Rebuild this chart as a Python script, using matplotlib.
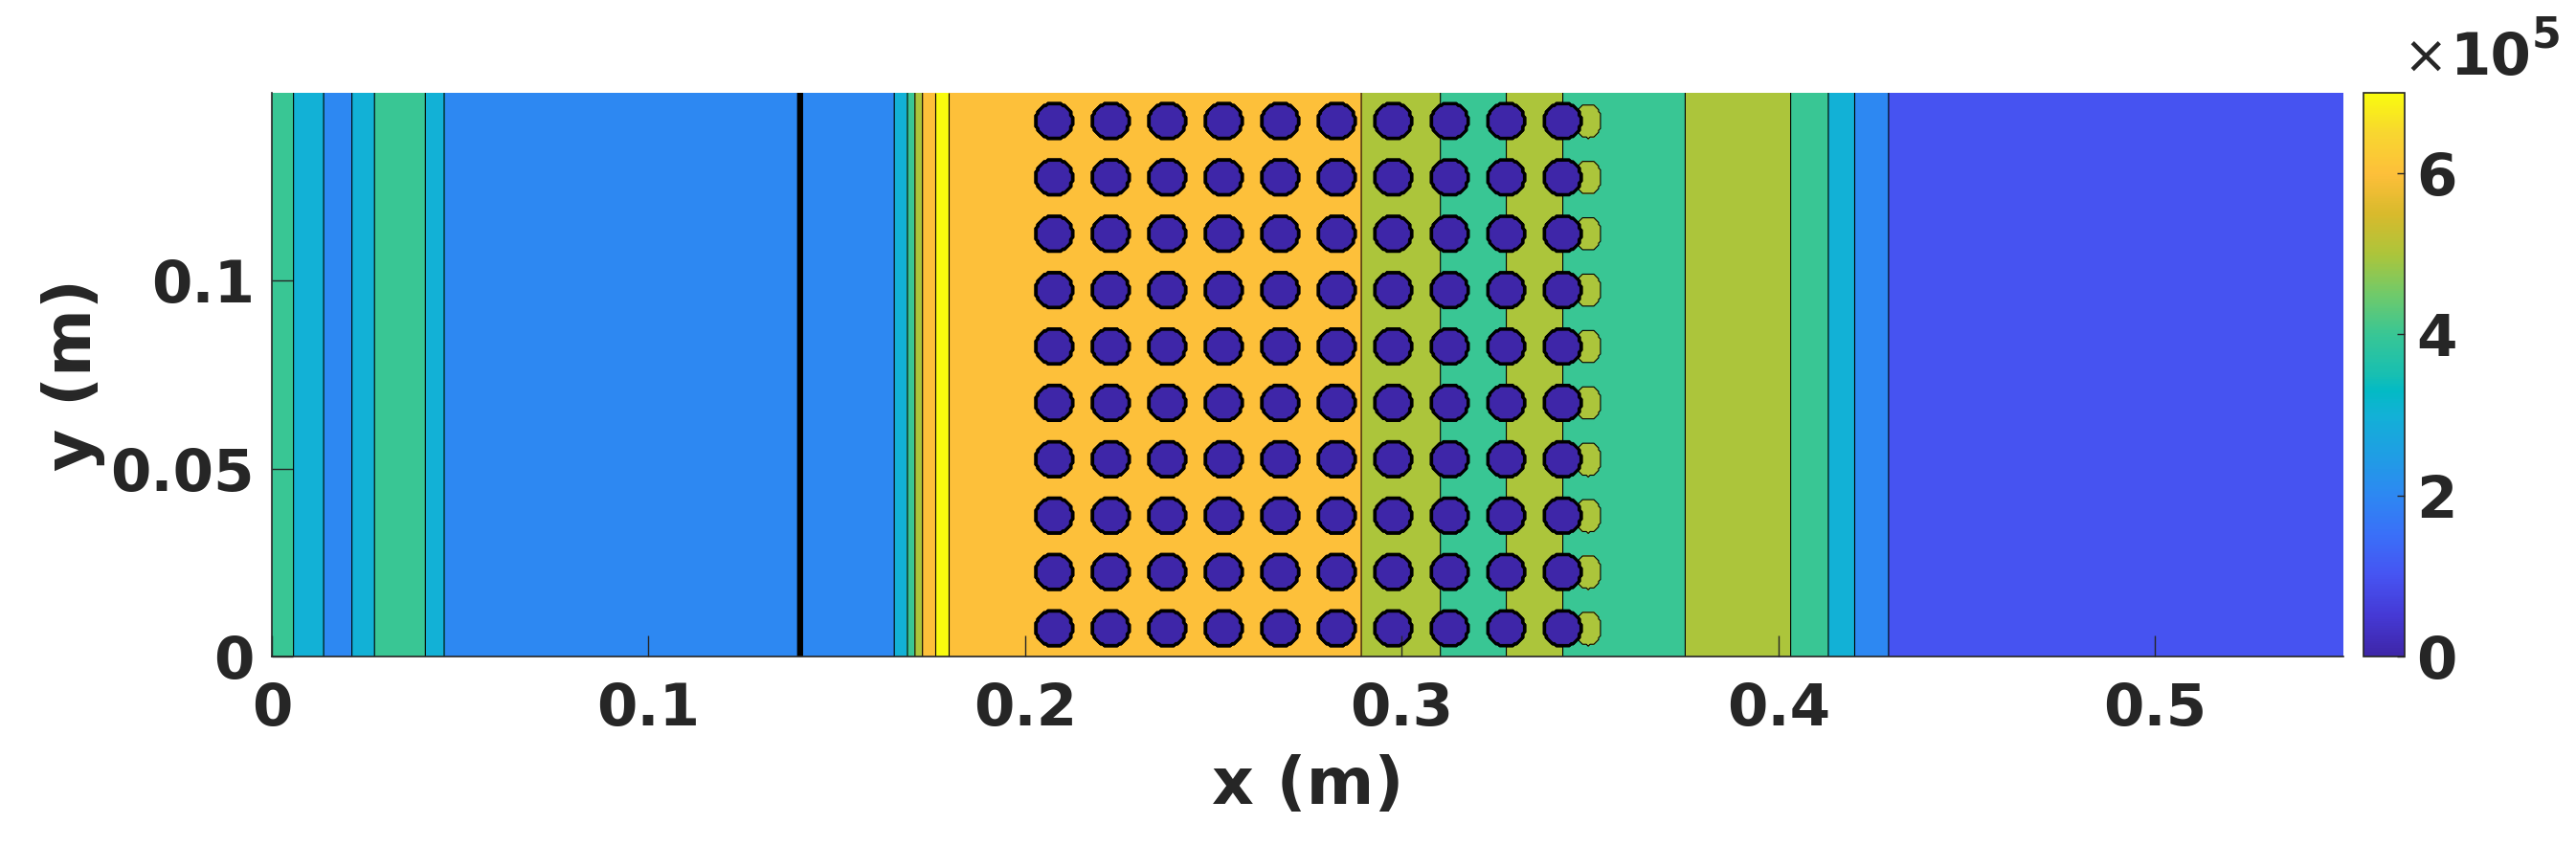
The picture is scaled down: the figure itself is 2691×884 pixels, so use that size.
import numpy as np
import matplotlib.pyplot as plt
from matplotlib.colors import LinearSegmentedColormap, Normalize
from matplotlib.cm import ScalarMappable

plt.rcParams['font.family'] = ['DejaVu Sans']
plt.rcParams['font.weight'] = 'bold'

# pressure bands along the channel (x in m), level index in units of 1e5 Pa
band_edges = [0.0, 0.006, 0.014, 0.0213, 0.0275, 0.0407, 0.046, 0.1396, 0.1409,
              0.1655, 0.169, 0.171, 0.173, 0.1762, 0.1798, 0.2893, 0.3104,
              0.3277, 0.3429, 0.3755, 0.4034, 0.4135, 0.4203, 0.4292, 0.55]
band_level = [4, 3, 2, 3, 4, 3, 2, 0, 2, 3, 4, 5, 6, 7, 6, 5, 4, 5, 4, 5, 4, 3, 2, 1]

# cylinder array (centres in m)
cyl_x = [0.2077, 0.2227, 0.2377, 0.2527, 0.2677, 0.2827, 0.2977, 0.3127, 0.3277, 0.3427]
cyl_y = [0.0075, 0.0225, 0.0375, 0.0525, 0.0675, 0.0825, 0.0975, 0.1125, 0.1275, 0.1425]
cyl_r = 0.005

# wake pockets behind the last column
wake_x = 0.3495
wake_rx = 0.0035
wake_ry = 0.0045
wake_level = 5

p_max = 7e5
levels = [0, 1e5, 2e5, 3e5, 4e5, 5e5, 6e5, 7e5, 8e5]
cbar_ticks = [0, 2e5, 4e5, 6e5]
cbar_labels = ['0', '2', '4', '6']
xticks = [0, 0.1, 0.2, 0.3, 0.4, 0.5]
xticklabels = ['0', '0.1', '0.2', '0.3', '0.4', '0.5']
yticks = [0, 0.05, 0.1]
yticklabels = ['0', '0.05', '0.1']

# parula-like colormap
parula_pos = [0, 0.071, 0.143, 0.214, 0.286, 0.357, 0.429, 0.471, 0.5, 0.571,
              0.643, 0.714, 0.786, 0.857, 0.929, 1.0]
parula_hex = ['#3E26A8', '#4539D5', '#4654F2', '#3A6FF8', '#2D88F2', '#1F9EE4',
              '#12B1D6', '#03BAC5', '#17BFB2', '#38C695', '#70CA6A', '#ACC53B',
              '#D8BA2C', '#FDBF3A', '#F8D630', '#F9FB0E']
parula = LinearSegmentedColormap.from_list('parula', list(zip(parula_pos, parula_hex)), N=256)

# build pressure field on a grid
x = np.linspace(0, 0.55, 1101)
y = np.linspace(0, 0.15, 301)
X, Y = np.meshgrid(x, y)
idx = np.clip(np.searchsorted(band_edges, X, side='right') - 1, 0, len(band_level) - 1)
P = (np.array(band_level)[idx] + 0.5) * 1e5
for yc in cyl_y:
    wake = ((X - wake_x) / wake_rx) ** 2 + ((Y - yc) / wake_ry) ** 2 <= 1
    P[wake] = (wake_level + 0.5) * 1e5
for xc in cyl_x:
    for yc in cyl_y:
        P[(X - xc) ** 2 + (Y - yc) ** 2 <= cyl_r ** 2] = 0.5e5

band_colors = [parula(lv / p_max) for lv in levels[:-1]]
# lowest line (cylinder walls) looks heavier because lines pile up there
line_widths = [2.2, 0.8, 0.8, 0.8, 0.8, 0.8, 0.8]

fig = plt.figure(figsize=(26.91, 8.84), dpi=100)
ax = fig.add_axes([284 / 2691, 198 / 884, 2164 / 2691, 589 / 884])
ax.contourf(X, Y, P, levels=levels, colors=band_colors)
ax.contour(X, Y, P, levels=levels[1:-1], colors='k', linewidths=line_widths)

ax.set_xlim(0, 0.55)
ax.set_ylim(0, 0.15)
ax.set_xticks(xticks)
ax.set_xticklabels(xticklabels)
ax.set_yticks(yticks)
ax.set_yticklabels(yticklabels)
ax.tick_params(direction='in', length=16, width=1, color='#262626',
               labelcolor='#262626', labelsize=44)
ax.tick_params(axis='x', pad=19)
ax.tick_params(axis='y', pad=13)
for s in ['top', 'right']:
    ax.spines[s].set_visible(False)
for s in ['left', 'bottom']:
    ax.spines[s].set_linewidth(1.2)
    ax.spines[s].set_color('#262626')
ax.set_xlabel('x (m)', fontsize=49, fontweight='bold', color='#262626', labelpad=12)
ax.set_ylabel('y (m)', fontsize=49, fontweight='bold', color='#262626', labelpad=4)

cax = fig.add_axes([2469 / 2691, 198 / 884, 43 / 2691, 589 / 884])
sm = ScalarMappable(norm=Normalize(0, p_max), cmap=parula)
cb = fig.colorbar(sm, cax=cax, ticks=cbar_ticks)
cb.ax.set_yticklabels(cbar_labels)
cb.outline.set_linewidth(1.2)
cb.outline.set_edgecolor('#262626')
cax.tick_params(direction='in', length=6, width=1, color='#262626',
                labelcolor='#262626', labelsize=44, pad=9)

# exponent label above the colorbar
fig.text(2510 / 2691, 1 - 76 / 884, '\u00d7', fontsize=40, fontweight='normal',
         ha='left', va='baseline', color='#262626')
fig.text(2559 / 2691, 1 - 78 / 884, '10', fontsize=44, fontweight='bold',
         ha='left', va='baseline', color='#262626')
fig.text(2645 / 2691, 1 - 50 / 884, '5', fontsize=32, fontweight='bold',
         ha='left', va='baseline', color='#262626')

fig.savefig('out.png', dpi=100)
